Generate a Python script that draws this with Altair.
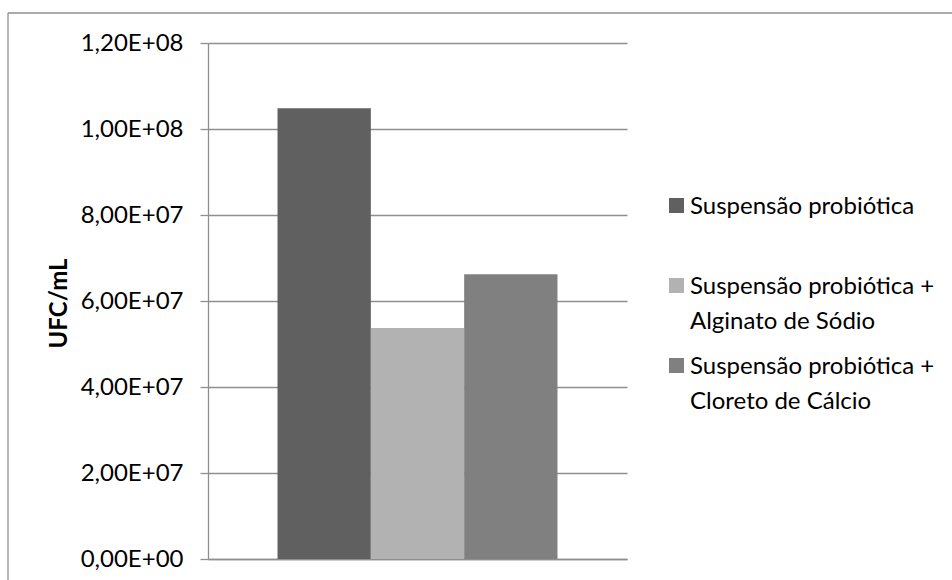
import altair as alt
import pandas as pd

# Viable cell counts (UFC/mL) for each suspension
series = [
    "Suspensão probiótica",
    "Suspensão probiótica + Alginato de Sódio",
    "Suspensão probiótica + Cloreto de Cálcio",
]
ufc = [1.048e8, 5.37e7, 6.62e7]
colors = ["#606060", "#b2b2b2", "#808080"]
y_ticks = [0, 2e7, 4e7, 6e7, 8e7, 1e8, 1.2e8]

df = pd.DataFrame({"serie": series, "ufc": ufc})

# Legend entries wrap after the "+"
legend_lines = [
    [s.split(" + ")[0] + " +", s.split(" + ")[1]] if " + " in s else [s]
    for s in series
]
legend_df = pd.DataFrame({"serie": series, "lines": legend_lines})

GRAY = "#8f8f8f"
FONT = "Lato"

# Scientific labels in the Excel style: 1,20E+08
y_label_expr = (
    "replace(replace(upper(format(datum.value, '.2e')), '.', ','), 'E+', 'E+0')"
)

color_scale = alt.Scale(domain=series, range=colors)

bars = alt.Chart(df).mark_bar().encode(
    x=alt.X(
        "serie:N",
        sort=series,
        scale=alt.Scale(paddingInner=0, paddingOuter=0.745),
        axis=alt.Axis(labels=False, ticks=False, title=None, grid=False,
                      domainColor=GRAY, domainWidth=1.3),
    ),
    y=alt.Y(
        "ufc:Q",
        scale=alt.Scale(domain=[0, 1.2e8], nice=False),
        axis=alt.Axis(
            values=y_ticks,
            labelExpr=y_label_expr,
            title="UFC/mL",
            titleFont=FONT,
            titleFontSize=24,
            titleFontWeight="bold",
            titleColor="black",
            titleAngle=270,
            titleAlign="center",
            titleBaseline="middle",
            titleX=-149,
            titleY=260,
            labelFont=FONT,
            labelFontSize=24,
            labelColor="black",
            labelPadding=17,
            tickSize=8,
            tickColor=GRAY,
            tickWidth=1.3,
            domainColor=GRAY,
            domainWidth=1.3,
            gridColor=GRAY,
            gridWidth=1.3,
        ),
    ),
    color=alt.Color("serie:N", scale=color_scale, legend=None),
)

# Legend on the right: one row per series, 80 px apart
legend_y = alt.Y(
    "serie:N",
    sort=series,
    scale=alt.Scale(type="point", domain=series, range=[162.5, 322.5], padding=0),
    axis=None,
)
legend_keys = alt.Chart(legend_df).mark_square(size=225, opacity=1).encode(
    x=alt.value(468.5),
    y=legend_y,
    color=alt.Color("serie:N", scale=color_scale, legend=None),
)
legend_text = alt.Chart(legend_df).mark_text(
    align="left",
    baseline="alphabetic",
    dy=8,
    font=FONT,
    fontSize=24,
    lineHeight=35,
    color="black",
).encode(
    x=alt.value(482),
    y=legend_y,
    text="lines:N",
)

# Outer chart frame (left and top edges)
frame_src = alt.Data(values=[{}])
frame_left = alt.Chart(frame_src).mark_rule(color=GRAY, strokeWidth=1.3).encode(
    x=alt.value(-200), y=alt.value(-30), y2=alt.value(600)
)
frame_top = alt.Chart(frame_src).mark_rule(color=GRAY, strokeWidth=1.3).encode(
    x=alt.value(-200), x2=alt.value(800), y=alt.value(-30)
)

chart = (
    alt.layer(bars, legend_keys, legend_text, frame_left, frame_top)
    .resolve_scale(y="independent")
    .properties(
        width=419,
        height=516,
        padding={"left": 208, "top": 43, "right": 325, "bottom": 21},
        autosize=alt.AutoSizeParams(type="none"),
        background="white",
    )
    .configure_view(stroke=None)
)

chart.save("out.html", embed_options={"renderer": "svg", "actions": False})
